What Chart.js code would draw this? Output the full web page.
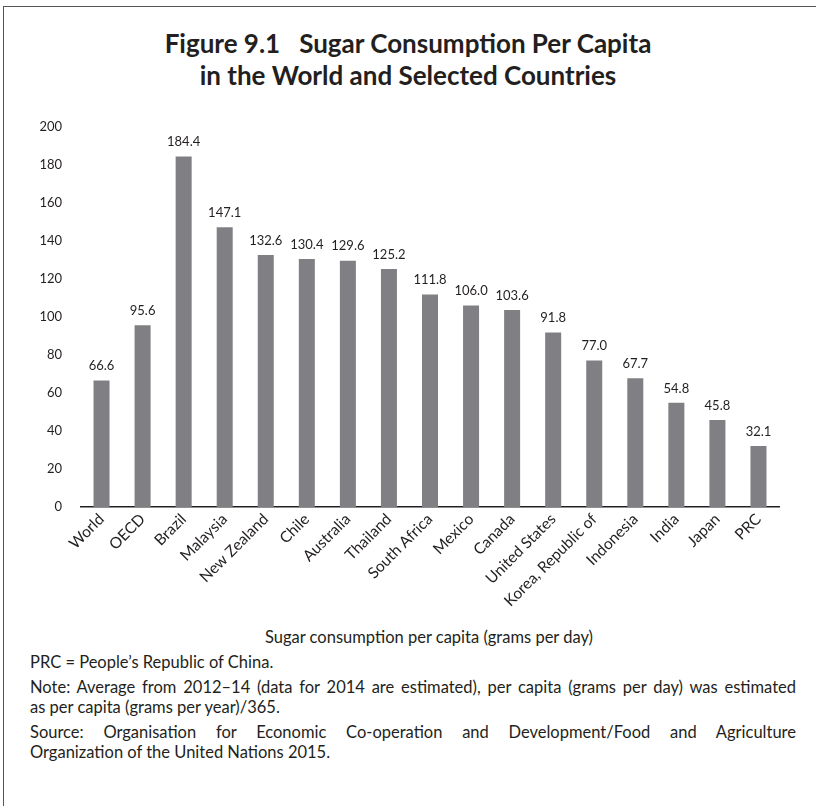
<!DOCTYPE html>
<html>
<head>
<meta charset="utf-8">
<title>Sugar Consumption Per Capita</title>
<script src="https://cdn.jsdelivr.net/npm/chart.js@4"></script>
<style>
  body { margin: 0; width: 816px; height: 806px; overflow: hidden; background: #fff;
         font-family: Lato, "Open Sans", sans-serif; color: #231f20; position: relative; }
  #frame { position: absolute; left: 3px; top: 6px; right: -4px; bottom: -4px;
           border-left: 1.5px solid #555; border-top: 1.5px solid #555; }
  #title { position: absolute; top: 27px; left: 0; width: 816px; text-align: center;
           font-weight: bold; font-size: 26px; line-height: 32px; }
  #chartBox { position: absolute; left: 0; top: 100px; width: 816px; height: 520px; }
  #xTitle { position: absolute; top: 627px; left: 0; width: 858px; text-align: center;
            font-size: 16.5px; line-height: 20px; }
  #notes { position: absolute; left: 30px; top: 652px; width: 766px; font-size: 16.5px; line-height: 20px; }
  #notes p { margin: 0 0 5px; }
  #notes .j { display: block; white-space: nowrap; text-align: justify; text-align-last: justify; }
</style>
</head>
<body>
<div id="frame"></div>
<div id="title">Figure 9.1&nbsp;&nbsp; Sugar Consumption Per Capita<br>in the World and Selected Countries</div>
<div id="chartBox"><canvas id="sugarChart"></canvas></div>
<div id="xTitle">Sugar consumption per capita (grams per day)</div>
<div id="notes">
  <p>PRC = People’s Republic of China.</p>
  <p><span class="j">Note: Average from 2012–14 (data for 2014 are estimated), per capita (grams per day) was estimated</span>as per capita (grams per year)/365.</p>
  <p><span class="j">Source: Organisation for Economic Co-operation and Development/Food and Agriculture</span>Organization of the United Nations 2015.</p>
</div>

<script>
// data
const countries = ['World', 'OECD', 'Brazil', 'Malaysia', 'New Zealand', 'Chile', 'Australia',
  'Thailand', 'South Africa', 'Mexico', 'Canada', 'United States', 'Korea, Republic of',
  'Indonesia', 'India', 'Japan', 'PRC'];
const gramsPerDay = [66.6, 95.6, 184.4, 147.1, 132.6, 130.4, 129.6, 125.2, 111.8, 106.0,
  103.6, 91.8, 77.0, 67.7, 54.8, 45.8, 32.1];
const yTicks = [0, 20, 40, 60, 80, 100, 120, 140, 160, 180, 200];

const textColor = '#231f20';
const barColor = '#808084';

// value labels above each bar
const valueLabels = {
  id: 'valueLabels',
  afterDatasetsDraw(chart) {
    const ctx = chart.ctx;
    const meta = chart.getDatasetMeta(0);
    ctx.save();
    ctx.font = '13px Lato';
    ctx.fillStyle = textColor;
    ctx.textAlign = 'center';
    ctx.textBaseline = 'bottom';
    meta.data.forEach((bar, i) => {
      ctx.fillText(gramsPerDay[i].toFixed(1), bar.x, bar.y - 8);
    });
    ctx.restore();
  }
};

const ctx = document.getElementById('sugarChart').getContext('2d');
new Chart(ctx, {
  type: 'bar',
  data: {
    labels: countries,
    datasets: [{
      data: gramsPerDay,
      backgroundColor: barColor,
      barPercentage: 0.39,
      categoryPercentage: 1.0
    }]
  },
  options: {
    responsive: true,
    maintainAspectRatio: false,
    animation: false,
    layout: { padding: { top: 17, right: 37, bottom: 0, left: 0 } },
    plugins: {
      legend: { display: false },
      tooltip: { enabled: false }
    },
    scales: {
      x: {
        grid: { display: false, drawTicks: false },
        border: { display: true, color: textColor, width: 1.5 },
        ticks: {
          color: textColor,
          font: { family: 'Lato', size: 15.5 },
          minRotation: 45,
          maxRotation: 45,
          autoSkip: false,
          padding: 3
        },
        afterFit(scale) { scale.height = 113; }
      },
      y: {
        min: 0,
        max: 200,
        grid: { display: false, drawTicks: false },
        border: { display: false },
        afterBuildTicks(scale) { scale.ticks = yTicks.map(v => ({ value: v })); },
        ticks: {
          color: textColor,
          font: { family: 'Lato', size: 13 },
          padding: 19
        },
        afterFit(scale) { scale.width = 81; }
      }
    }
  },
  plugins: [valueLabels]
});
</script>
</body>
</html>
